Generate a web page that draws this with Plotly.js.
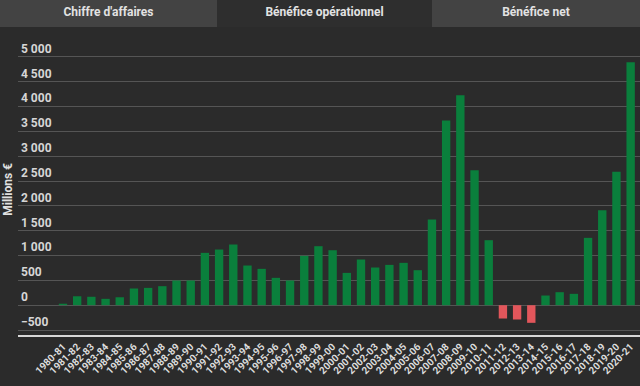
<!DOCTYPE html>
<html>
<head>
<meta charset="utf-8">
<script src="https://cdn.plot.ly/plotly-3.0.1.min.js"></script>
<style>
  html, body { margin: 0; padding: 0; background: #2b2b2b; width: 640px; height: 386px; overflow: hidden; }
  #tabs { position: absolute; left: 0; top: 0; width: 640px; height: 27px; z-index: 2; }
  .tab { position: absolute; top: 0; height: 27px; line-height: 25px; text-align: center;
         font-family: Roboto, "Open Sans", sans-serif; font-size: 12px; font-weight: bold; color: #e2e2e2; }
  #chart { position: absolute; left: 0; top: 0; width: 640px; height: 386px; }
</style>
</head>
<body>
<div id="chart"></div>
<div id="tabs">
  <div class="tab" style="left:0;width:217px;background:#434343;">Chiffre d'affaires</div>
  <div class="tab" style="left:217px;width:215px;background:#2e2e2e;">Bénéfice opérationnel</div>
  <div class="tab" style="left:432px;width:208px;background:#434343;">Bénéfice net</div>
</div>
<script>
const categories = ["1980-81","1981-82","1982-83","1983-84","1984-85","1985-86","1986-87","1987-88","1988-89","1989-90",
  "1990-91","1991-92","1992-93","1993-94","1994-95","1995-96","1996-97","1997-98","1998-99","1999-00",
  "2000-01","2001-02","2002-03","2003-04","2004-05","2005-06","2006-07","2007-08","2008-09","2009-10",
  "2010-11","2011-12","2012-13","2013-14","2014-15","2015-16","2016-17","2017-18","2018-19","2019-20","2020-21"];
const operatingProfit = [30, 180, 170, 128, 160, 336, 349, 383, 497, 497,
  1054, 1121, 1222, 799, 732, 551, 497, 994, 1188, 1107,
  651, 920, 759, 812, 853, 705, 1725, 3719, 4227, 2718,
  1309, -268, -288, -355, 195, 262, 229, 1356, 1913, 2685, 4891];
const yTicks = [-500, 0, 500, 1000, 1500, 2000, 2500, 3000, 3500, 4000, 4500, 5000];

const posColor = '#0a7f3c', negColor = '#e2565b';
const colors = operatingProfit.map(v => v >= 0 ? posColor : negColor);

const trace = {
  type: 'bar',
  x: categories,
  y: operatingProfit,
  marker: { color: colors, line: { width: 0 } },
  hoverinfo: 'x+y'
};

// plot area: top 38px, bottom axis line at 335.5px
const plotH = 335.5 - 38;
const layout = {
  width: 640, height: 386,
  paper_bgcolor: '#2b2b2b', plot_bgcolor: '#2b2b2b',
  margin: { l: 18, r: 0, t: 38, b: 50.5 },
  separators: ', ',
  bargap: 0.41,
  showlegend: false,
  font: { family: 'Roboto, "Open Sans", sans-serif', color: '#dcdcdc' },
  xaxis: {
    type: 'category',
    range: [-3.17, 40.66],
    tickangle: -45,
    tickfont: { size: 10, color: '#dcdcdc', weight: 'bold' },
    showgrid: false,
    showline: true, linecolor: '#d8d8d8', linewidth: 2,
    ticks: '', zeroline: false, fixedrange: true
  },
  yaxis: {
    range: [-600, 5380],
    tickvals: yTicks,
    tickformat: ',d',
    ticklabelposition: 'inside top',
    tickfont: { size: 12, color: '#d6d6d6', weight: 'bold' },
    showgrid: true, gridcolor: '#555555', gridwidth: 1,
    zeroline: false, showline: false, ticks: '', fixedrange: true
  },
  annotations: [{
    text: 'Millions €', textangle: -90,
    xref: 'paper', yref: 'paper',
    x: -10 / 622, y: (335.5 - 190) / plotH,
    xanchor: 'center', yanchor: 'middle', showarrow: false,
    font: { size: 12, color: '#e0e0e0', weight: 'bold' }
  }]
};

Plotly.newPlot('chart', [trace], layout, { displayModeBar: false, staticPlot: true });
</script>
</body>
</html>
